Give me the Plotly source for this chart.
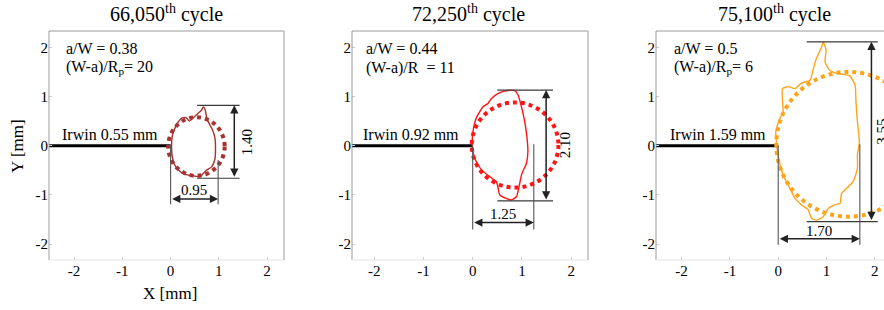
import plotly.graph_objects as go

# ---------------- data ----------------
titles = ["66,050<sup>th</sup> cycle", "72,250<sup>th</sup> cycle", "75,100<sup>th</sup> cycle"]
aw_labels = ["a/W = 0.38", "a/W = 0.44", "a/W = 0.5"]
ratio_labels = ["(W-a)/R<sub>p</sub>= 20", "(W-a)/R  = 11", "(W-a)/R<sub>p</sub>= 6"]
irwin_labels = ["Irwin 0.55 mm", "Irwin 0.92 mm", "Irwin 1.59 mm"]
colors = ["#a8322f", "#ff1414", "#ffa31a"]

tick_vals = [-2, -1, 0, 1, 2]
tick_text = ["-2", "-1", "0", "1", "2"]

# plastic zone contours (mm)
zone1_x = [0.02, 0.04, 0.12, 0.23, 0.32, 0.39, 0.47, 0.57, 0.64, 0.68, 0.72, 0.75, 0.80, 0.87, 0.92,
           0.93, 0.92, 0.85, 0.75, 0.68, 0.61, 0.47, 0.30, 0.16, 0.07, 0.03]
zone1_y = [0.01, 0.22, 0.42, 0.56, 0.57, 0.50, 0.57, 0.66, 0.72, 0.79, 0.72, 0.56, 0.45, 0.32, 0.15,
           -0.05, -0.26, -0.43, -0.49, -0.56, -0.63, -0.61, -0.58, -0.49, -0.36, -0.19]

zone2_x = [-0.01, 0.01, 0.07, 0.16, 0.21, 0.31, 0.38, 0.51, 0.65, 0.85, 0.92, 0.99, 1.05, 1.10, 1.12,
           1.09, 1.00, 0.94, 0.89, 0.78, 0.68, 0.55, 0.51, 0.48, 0.35, 0.18, 0.07, 0.01]
zone2_y = [-0.01, 0.32, 0.56, 0.72, 0.79, 0.86, 0.96, 1.06, 1.11, 1.12, 1.03, 0.79, 0.52, 0.18, -0.12,
           -0.36, -0.56, -0.83, -1.03, -1.10, -1.07, -1.00, -0.83, -0.73, -0.63, -0.49, -0.32, -0.15]

zone3_x = [-0.03, -0.05, 0.02, 0.10, 0.09, 0.09, 0.21, 0.35, 0.48, 0.66, 0.71, 0.79, 0.90, 0.93, 0.99,
           0.97, 1.06, 1.21, 1.48, 1.59, 1.61, 1.64, 1.68, 1.64, 1.64, 1.55, 1.42, 1.31, 1.28, 1.17,
           1.04, 0.93, 0.79, 0.69, 0.62, 0.48, 0.35, 0.24, 0.10, 0.02]
zone3_y = [0.01, 0.28, 0.52, 0.69, 0.89, 1.16, 1.20, 1.16, 1.27, 1.33, 1.50, 1.77, 2.01, 2.11, 1.94,
           1.70, 1.54, 1.47, 1.42, 1.23, 0.89, 0.49, 0.08, -0.19, -0.46, -0.73, -0.86, -0.97, -1.17, -1.20,
           -1.27, -1.44, -1.51, -1.47, -1.30, -1.20, -1.07, -0.86, -0.59, -0.32]

zones_x = [zone1_x, zone2_x, zone3_x]
zones_y = [zone1_y, zone2_y, zone3_y]

# dotted (Irwin) circles: bounding boxes
circ_x0 = [-0.05, -0.02, -0.04]
circ_x1 = [1.12, 1.74, 2.95]
circ_y0 = [-0.61, -0.85, -1.44]
circ_y1 = [0.58, 0.88, 1.50]

# crack line
crack_x = [-3.0, 0.0]
crack_y = [0.0, 0.0]

# dimensions
height_vals = ["1.40", "2.10", "3.55"]
width_vals = ["0.95", "1.25", "1.70"]
dim_top = [0.82, 1.13, 2.11]
dim_bottom = [-0.66, -1.12, -1.54]
dim_hx0 = [0.55, 0.50, 0.59]
dim_hx1 = [1.43, 1.63, 2.06]
dim_vx = [1.32, 1.49, 1.93]
dim_right = [0.985, 1.24, 1.69]
dim_right_top = [-0.29, 0.03, 0.03]
dim_ext_bottom = [-1.19, -1.70, -2.01]
dim_arrow_y = [-1.08, -1.56, -1.89]
height_text_x = [1.57, 1.87, 2.15]
width_text_dy = [0.18, 0.17, 0.16]

# ---------------- layout geometry ----------------
W, H = 884, 310
x_dom_px = [(49, 284), (352, 588), (656, 884)]
x_ranges = [[-2.52, 2.35], [-2.45, 2.34], [-2.53, 2.19]]
y_dom = [1 - 260 / H, 1 - 31 / H]
y_range = [-2.32, 2.33]

SERIF = "Liberation Serif"
fig = go.Figure()
shapes = []
annotations = []

for i in range(3):
    xa = "x" if i == 0 else f"x{i+1}"
    ya = "y" if i == 0 else f"y{i+1}"
    col = colors[i]

    # crack line
    fig.add_trace(go.Scatter(x=crack_x, y=crack_y, mode="lines", xaxis=xa, yaxis=ya,
                             line=dict(color="black", width=3), showlegend=False, hoverinfo="skip"))
    # plastic zone contour
    fig.add_trace(go.Scatter(x=zones_x[i] + [zones_x[i][0]], y=zones_y[i] + [zones_y[i][0]],
                             mode="lines", xaxis=xa, yaxis=ya,
                             line=dict(color=col, width=1.4, shape="spline", smoothing=0.6),
                             showlegend=False, hoverinfo="skip"))
    # dotted circle
    shapes.append(dict(type="circle", xref=xa, yref=ya, x0=circ_x0[i], x1=circ_x1[i],
                       y0=circ_y0[i], y1=circ_y1[i], line=dict(color=col, width=4, dash="dot")))

    # frame
    fc = "#9a9a9a"
    shapes.append(dict(type="line", xref=f"{xa} domain", yref=f"{ya} domain", x0=0, x1=0, y0=0, y1=1,
                       line=dict(color=fc, width=1)))
    shapes.append(dict(type="line", xref=f"{xa} domain", yref=f"{ya} domain", x0=0, x1=1, y0=1, y1=1,
                       line=dict(color=fc, width=1)))
    shapes.append(dict(type="line", xref=f"{xa} domain", yref=f"{ya} domain", x0=0, x1=1, y0=0, y1=0,
                       line=dict(color="#e4e4e4", width=1)))
    if i < 2:
        shapes.append(dict(type="line", xref=f"{xa} domain", yref=f"{ya} domain", x0=1, x1=1, y0=0, y1=1,
                           line=dict(color=fc, width=1)))

    dc = "#3a3a3a"
    # horizontal extension lines (height)
    for yv in (dim_top[i], dim_bottom[i]):
        shapes.append(dict(type="line", xref=xa, yref=ya, x0=dim_hx0[i], x1=dim_hx1[i], y0=yv, y1=yv,
                           line=dict(color=dc, width=1.1)))
    # vertical extension lines (width)
    shapes.append(dict(type="line", xref=xa, yref=ya, x0=0, x1=0, y0=0, y1=dim_ext_bottom[i],
                       line=dict(color="#555", width=1.1)))
    shapes.append(dict(type="line", xref=xa, yref=ya, x0=dim_right[i], x1=dim_right[i],
                       y0=dim_right_top[i], y1=dim_ext_bottom[i], line=dict(color="#555", width=1.1)))

    # double arrows
    annotations.append(dict(xref=xa, yref=ya, axref=xa, ayref=ya, x=dim_vx[i], y=dim_top[i],
                            ax=dim_vx[i], ay=dim_bottom[i], text="", showarrow=True,
                            arrowhead=2, startarrowhead=2, arrowside="end+start",
                            arrowsize=1.1, startarrowsize=1.1, arrowwidth=1.5, arrowcolor="#222",
                            standoff=0, startstandoff=0))
    annotations.append(dict(xref=xa, yref=ya, axref=xa, ayref=ya, x=dim_right[i], y=dim_arrow_y[i],
                            ax=0, ay=dim_arrow_y[i], text="", showarrow=True,
                            arrowhead=2, startarrowhead=2, arrowside="end+start",
                            arrowsize=1.1, startarrowsize=1.1, arrowwidth=1.5, arrowcolor="#222",
                            standoff=0, startstandoff=0))
    # dimension texts
    annotations.append(dict(xref=xa, yref=ya, x=height_text_x[i], y=(dim_top[i] + dim_bottom[i]) / 2,
                            text=height_vals[i], textangle=-90, showarrow=False,
                            font=dict(family=SERIF, size=15, color="black")))
    annotations.append(dict(xref=xa, yref=ya, x=dim_right[i] / 2, y=dim_arrow_y[i] + width_text_dy[i],
                            text=width_vals[i], showarrow=False,
                            font=dict(family=SERIF, size=15, color="black")))

    # labels
    annotations.append(dict(xref=xa, yref=ya, x=-1.25, y=0.22, text=irwin_labels[i], showarrow=False,
                            font=dict(family=SERIF, size=16, color="black")))
    annotations.append(dict(xref=xa, yref=ya, x=-2.2, y=1.98, xanchor="left", text=aw_labels[i],
                            showarrow=False, font=dict(family=SERIF, size=16, color="black")))
    annotations.append(dict(xref=xa, yref=ya, x=-2.2, y=1.58, xanchor="left", text=ratio_labels[i],
                            showarrow=False, font=dict(family=SERIF, size=16, color="black")))
    # title
    annotations.append(dict(xref=xa, yref="paper", x=-0.08, y=1 - 13 / H, yanchor="middle",
                            xanchor="center", text=titles[i], showarrow=False,
                            font=dict(family=SERIF, size=20, color="black")))

    axis_common = dict(showgrid=False, zeroline=False, showline=False, ticks="inside", ticklen=3,
                       tickcolor="#cccccc", tickvals=tick_vals, ticktext=tick_text,
                       tickfont=dict(family=SERIF, size=15, color="black"), fixedrange=True)
    key_x = "xaxis" if i == 0 else f"xaxis{i+1}"
    key_y = "yaxis" if i == 0 else f"yaxis{i+1}"
    fig.layout[key_x] = dict(domain=[x_dom_px[i][0] / W, x_dom_px[i][1] / W], range=x_ranges[i],
                             anchor=ya, **axis_common)
    fig.layout[key_y] = dict(domain=y_dom, range=y_range, anchor=xa, **axis_common)

# axis titles
annotations.append(dict(xref="paper", yref="paper", x=170 / W, y=1 - 293 / H, text="X [mm]",
                        xanchor="center", yanchor="middle",
                        showarrow=False, font=dict(family=SERIF, size=17, color="black")))
annotations.append(dict(xref="paper", yref="paper", x=17 / W, y=1 - 146 / H, text="Y [mm]",
                        xanchor="center", yanchor="middle",
                        textangle=-90, showarrow=False, font=dict(family=SERIF, size=17, color="black")))

fig.update_layout(width=W, height=H, margin=dict(l=0, r=0, t=0, b=0),
                  paper_bgcolor="white", plot_bgcolor="white",
                  shapes=shapes, annotations=annotations, showlegend=False)

fig.write_html("out.html", config={"displayModeBar": False},
               post_script="document.body.style.margin='0';document.body.style.overflow='hidden';")
